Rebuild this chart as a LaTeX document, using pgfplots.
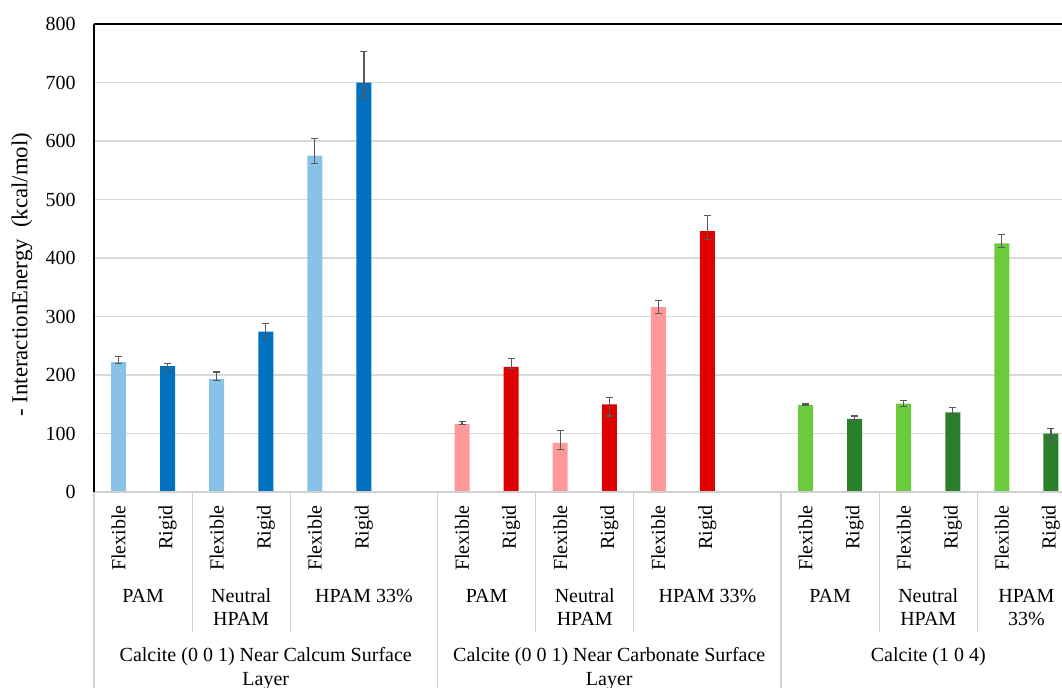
\documentclass[border=0pt]{standalone}
\usepackage{pgfplots}
\pgfplotsset{compat=1.18}
\usepackage{pgfplotstable}
\usepackage{fontspec}
\setmainfont{Liberation Serif}

\definecolor{lblue}{HTML}{88C2E6}
\definecolor{dblue}{HTML}{0070C0}
\definecolor{lred}{HTML}{FF9999}
\definecolor{dred}{HTML}{DF0000}
\definecolor{lgreen}{HTML}{6CCB3C}
\definecolor{dgreen}{HTML}{2A7F2A}
\definecolor{gridgray}{HTML}{D9D9D9}
\definecolor{sepgray}{HTML}{D0D0D0}
\definecolor{errgray}{HTML}{595959}

% x = slot position, y = energy, ep/em = upper/lower error
\pgfplotstableread{
x y ep em
0 222 10 2
2 193 12 2
4 575 29 14
}\caFlex
\pgfplotstableread{
x y ep em
1 215 5 9
3 274 14 13
5 700 53 29
}\caRigid
\pgfplotstableread{
x y ep em
7 116 4 1
9 84 21 12
11 316 12 11
}\coFlex
\pgfplotstableread{
x y ep em
8 214 14 3
10 150 12 20
12 446 26 14
}\coRigid
\pgfplotstableread{
x y ep em
14 149 1.5 1
16 151 5 5
18 425 15 7
}\ccFlex
\pgfplotstableread{
x y ep em
15 125 5 2
17 136 9 3
19 100 9 15
}\ccRigid

\pgfplotsset{
  bars/.style={ybar, bar width=7.5pt, bar shift=0pt, draw=none, fill=#1,
    error bars/.cd, y dir=both, y explicit,
    error bar style={line width=0.6pt, draw=errgray},
    error mark options={rotate=90, line width=0.6pt, draw=errgray, mark size=1.75pt}},
}

\begin{document}
\begin{tikzpicture}
\path[use as bounding box, clip] (0,0) rectangle (531pt,343.5pt);
\begin{axis}[
  at={(47pt,97.5pt)}, anchor=south west,
  scale only axis, width=490.75pt, height=234pt,
  xmin=-0.5, xmax=19.5, ymin=0, ymax=800,
  ytick={0,100,...,800},
  xtick={0,1,2,3,4,5,7,8,9,10,11,12,14,15,16,17,18,19},
  xticklabels={Flexible,Rigid,Flexible,Rigid,Flexible,Rigid,
               Flexible,Rigid,Flexible,Rigid,Flexible,Rigid,
               Flexible,Rigid,Flexible,Rigid,Flexible,Rigid},
  xticklabel style={rotate=90, anchor=east, inner sep=0pt},
  xticklabel shift=6.5pt,
  yticklabel style={anchor=east, inner sep=0pt},
  yticklabel shift=9pt,
  tick style={draw=none},
  ymajorgrids, grid style={draw=gridgray, line width=0.75pt},
  axis line style={draw=none},
  /pgf/number format/assume math mode=true,
  ylabel={- InteractionEnergy~ (kcal/mol)},
  ylabel style={at={(rel axis cs:-0.0734,0.4645)}, anchor=center,
                font=\fontsize{11.4}{13.7}\selectfont},
  clip=false,
]
\addplot[bars=lblue]  table[x=x, y=y, y error plus=ep, y error minus=em] {\caFlex};
\addplot[bars=dblue]  table[x=x, y=y, y error plus=ep, y error minus=em] {\caRigid};
\addplot[bars=lred]   table[x=x, y=y, y error plus=ep, y error minus=em] {\coFlex};
\addplot[bars=dred]   table[x=x, y=y, y error plus=ep, y error minus=em] {\coRigid};
\addplot[bars=lgreen] table[x=x, y=y, y error plus=ep, y error minus=em] {\ccFlex};
\addplot[bars=dgreen] table[x=x, y=y, y error plus=ep, y error minus=em] {\ccRigid};

% frame
\draw[sepgray, line width=0.75pt] (rel axis cs:0,0) -- (rel axis cs:1,0);
\draw[black, line width=1pt] (rel axis cs:0,0) -- (rel axis cs:0,1);
\draw[black, line width=1.2pt] (rel axis cs:0,1) -- (rel axis cs:1,1);

% category separators
\pgfplotsinvokeforeach{1.5,3.5,8.5,10.5,15.5,17.5}{
  \draw[sepgray, line width=0.6pt] (axis cs:#1,0) -- ([yshift=-70pt]axis cs:#1,0);
}
\pgfplotsinvokeforeach{-0.5,6.5,13.5,19.5}{
  \draw[sepgray, line width=0.6pt] (axis cs:#1,0) -- ([yshift=-110pt]axis cs:#1,0);
}

% polymer labels
\begin{scope}[every node/.style={anchor=base, inner sep=0pt}]
\node[yshift=-55.25pt] at (axis cs:0.5,0) {PAM};
\node[yshift=-55.25pt] at (axis cs:2.5,0) {Neutral};
\node[yshift=-66.75pt] at (axis cs:2.5,0) {HPAM};
\node[yshift=-55.25pt] at (axis cs:5,0) {HPAM 33\%};
\node[yshift=-55.25pt] at (axis cs:7.5,0) {PAM};
\node[yshift=-55.25pt] at (axis cs:9.5,0) {Neutral};
\node[yshift=-66.75pt] at (axis cs:9.5,0) {HPAM};
\node[yshift=-55.25pt] at (axis cs:12,0) {HPAM 33\%};
\node[yshift=-55.25pt] at (axis cs:14.5,0) {PAM};
\node[yshift=-55.25pt] at (axis cs:16.5,0) {Neutral};
\node[yshift=-66.75pt] at (axis cs:16.5,0) {HPAM};
\node[yshift=-55.25pt] at (axis cs:18.5,0) {HPAM};
\node[yshift=-66.75pt] at (axis cs:18.5,0) {33\%};
% surface labels
\node[yshift=-84.5pt] at (axis cs:3,0) {Calcite (0 0 1) Near Calcum Surface};
\node[yshift=-96.5pt] at (axis cs:3,0) {Layer};
\node[yshift=-84.5pt] at (axis cs:10,0) {Calcite (0 0 1) Near Carbonate Surface};
\node[yshift=-96.5pt] at (axis cs:10,0) {Layer};
\node[yshift=-84.5pt] at (axis cs:16.5,0) {Calcite (1 0 4)};
\end{scope}
\end{axis}
\end{tikzpicture}
\end{document}
